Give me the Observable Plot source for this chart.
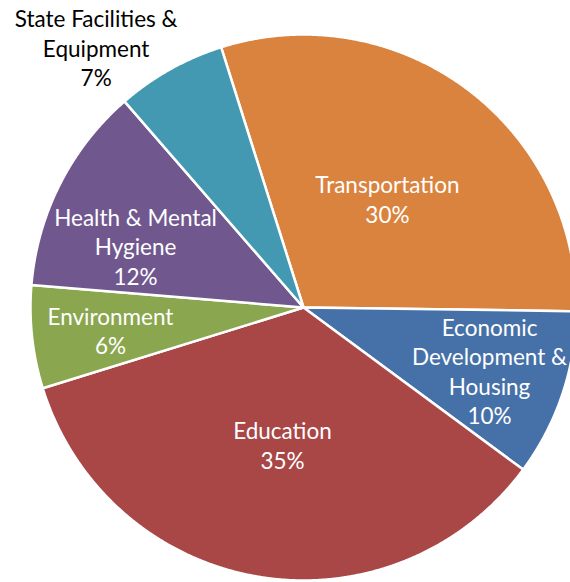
<!DOCTYPE html>
<html>
<head>
<meta charset="utf-8">
<script src="https://cdn.jsdelivr.net/npm/d3@7"></script>
<script src="https://cdn.jsdelivr.net/npm/@observablehq/plot@0.6"></script>
<style>
  html, body { margin: 0; padding: 0; background: #fff; overflow: hidden; }
  #chart { width: 570px; height: 582px; }
</style>
</head>
<body>
<div id="chart"></div>
<script>
// ---- data ----
const categories = [
  "Transportation",
  "Economic Development & Housing",
  "Education",
  "Environment",
  "Health & Mental Hygiene",
  "State Facilities & Equipment"
];
const shares = [30.1, 9.9, 35.1, 6.1, 12.3, 6.5];
const labelText = [
  "Transportation",
  "Economic\nDevelopment &\nHousing",
  "Education",
  "Environment",
  "Health & Mental\nHygiene",
  "State Facilities &\nEquipment"
];

// ---- styles / layout ----
const colors = ["#DA833E", "#4671A8", "#A94646", "#8AA64E", "#70588F", "#4299B1"];
const labelColors = ["white", "white", "white", "white", "white", "black"];
// label placement: [radius as fraction of pie radius, angle offset from slice middle in degrees]
const labelLayout = [[0.498, 1.5], [0.722, 0.7], [0.515, -1.0], [0.713, -1.1], [0.653, -7.3], [1.213, -9.5]];
const W = 570, H = 582, CX = 303, CY = 307, R = 273;
const startDeg = -17.57;

const total = d3.sum(shares);
const arcs = d3.pie().sort(null)
  .startAngle(startDeg * Math.PI / 180)
  .endAngle(startDeg * Math.PI / 180 + 2 * Math.PI)(shares);

const polys = [];
arcs.forEach((a, i) => {
  const cat = categories[i];
  polys.push({cat, u: 0, v: 0});
  const n = Math.max(2, Math.ceil((a.endAngle - a.startAngle) / 0.004));
  for (let k = 0; k <= n; k++) {
    const t = a.startAngle + (a.endAngle - a.startAngle) * k / n;
    polys.push({cat, u: Math.sin(t), v: Math.cos(t)});
  }
});

const labels = arcs.map((a, i) => {
  const mid = (a.startAngle + a.endAngle) / 2 + labelLayout[i][1] * Math.PI / 180;
  const r = labelLayout[i][0];
  return {
    cat: categories[i],
    u: r * Math.sin(mid),
    v: r * Math.cos(mid),
    text: labelText[i] + "\n" + Math.round(shares[i] / total * 100) + "%",
    color: labelColors[i]
  };
});

const chart = Plot.plot({
  width: W,
  height: H,
  margin: 0,
  x: {domain: [-CX / R, (W - CX) / R], axis: null},
  y: {domain: [-(H - CY) / R, CY / R], axis: null},
  color: {domain: categories, range: colors},
  style: {background: "white"},
  marks: [
    Plot.line(polys, {
      x: "u", y: "v", z: "cat", fill: "cat",
      stroke: "white", strokeWidth: 2.5, curve: "linear-closed", clip: true
    }),
    Plot.text(labels, {
      x: "u", y: "v", text: "text", fill: "color",
      fontFamily: "Lato", fontSize: 22.5, lineHeight: 1.31, lineAnchor: "middle", dy: -2
    })
  ]
});
document.getElementById("chart").appendChild(chart);
</script>
</body>
</html>
